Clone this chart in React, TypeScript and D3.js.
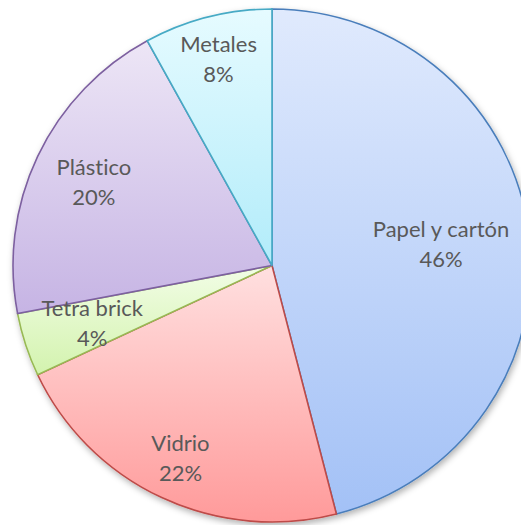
import React from "react";
import * as d3 from "d3";

const categories = ["Papel y cartón", "Vidrio", "Tetra brick", "Plástico", "Metales"];
const values = [46, 22, 4, 20, 8];
const labels = ["46%", "22%", "4%", "20%", "8%"];

const topColors = ["#e0eafd", "#ffe0e0", "#f2fde6", "#ede6f6", "#e6fbff"];
const bottomColors = ["#a3c1f6", "#ff9a9a", "#d3f3ae", "#c6b4e4", "#b2ecfa"];
const strokeColors = ["#4a7ebb", "#be4b48", "#98b954", "#7d60a0", "#46aac5"];
const labelRadius = [0.658, 0.83, 0.73, 0.76, 0.83];

const W = 521;
const H = 525;
const cx = 272;
const cy = 265.5;
const rx = 259;
const ry = 256.5;

export default function App() {
  const pie = d3.pie<number>().sort(null).value((d) => d)(values);
  const arc = d3.arc<d3.PieArcDatum<number>>().innerRadius(0).outerRadius(rx);
  return (
    <svg width={W} height={H} style={{ position: "absolute", left: 0, top: 0 }}>
      <defs>
        {categories.map((c, i) => (
          <linearGradient key={c} id={`g${i}`} x1="0" y1="0" x2="0" y2="1">
            <stop offset="0" stopColor={topColors[i]} />
            <stop offset="1" stopColor={bottomColors[i]} />
          </linearGradient>
        ))}
        <filter id="sh" x="-10%" y="-10%" width="120%" height="120%">
          <feDropShadow dx="1.5" dy="3" stdDeviation="3" floodColor="#000" floodOpacity="0.3" />
        </filter>
      </defs>
      <rect width={W} height={H} fill="#fff" />
      <g transform={`translate(${cx},${cy}) scale(1,${ry / rx})`} filter="url(#sh)">
        {pie.map((p, i) => (
          <path key={i} d={arc(p) || ""} fill={`url(#g${i})`} stroke={strokeColors[i]} strokeWidth={1.6} />
        ))}
      </g>
      {pie.map((p, i) => {
        const a = (p.startAngle + p.endAngle) / 2;
        const x = cx + rx * labelRadius[i] * Math.sin(a);
        const y = cy - ry * labelRadius[i] * Math.cos(a);
        return (
          <text
            key={i}
            x={x}
            textAnchor="middle"
            fill="#595959"
            fontFamily="Lato, 'Open Sans', sans-serif"
            fontSize={22}
            style={{ fontVariantLigatures: "none", fontFeatureSettings: "'liga' 0" }}
          >
            <tspan x={x} y={y - 7}>{categories[i]}</tspan>
            <tspan x={x} y={y + 23}>{labels[i]}</tspan>
          </text>
        );
      })}
    </svg>
  );
}
